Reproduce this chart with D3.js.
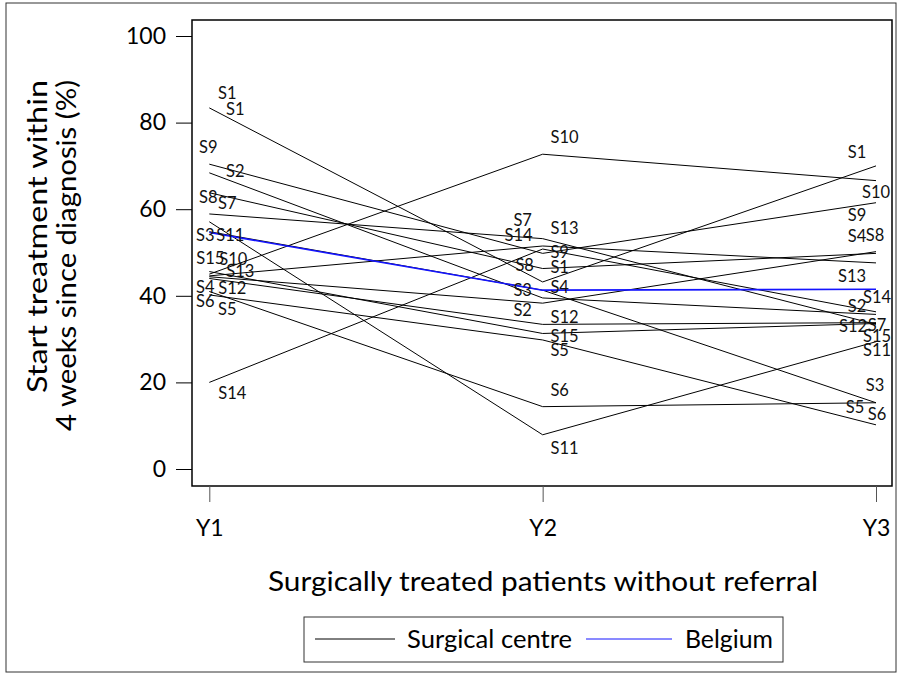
<!DOCTYPE html>
<html><head><meta charset="utf-8">
<script src="https://cdn.jsdelivr.net/npm/d3@7"></script>
<style>body{margin:0;background:#fff}</style>
</head><body>
<svg id="c" width="901" height="679"></svg>
<script>
// ---------- data ----------
const years = ["Y1", "Y2", "Y3"];
const centres = ["S1","S2","S3","S4","S5","S6","S7","S8","S9","S10","S11","S12","S13","S14","S15"];
const valuesY1 = [83.4, 68.4, 54.8, 44.4, 40.2, 41.0, 58.9, 63.8, 70.4, 45.0, 57.1, 44.0, 44.6, 20.0, 45.6];
const valuesY2 = [43.2, 39.5, 41.3, 38.3, 29.8, 14.4, 53.2, 46.3, 49.8, 72.7, 7.9, 33.4, 51.5, 50.8, 31.3];
const valuesY3 = [70.0, 35.7, 15.3, 50.2, 10.2, 15.3, 33.4, 49.8, 61.5, 66.6, 29.4, 33.8, 47.6, 36.3, 33.6];
const belgium = [54.6, 41.3, 41.5];
const yTicks = [0, 20, 40, 60, 80, 100];
const legendLabels = ["Surgical centre", "Belgium"];
const yTitleLines = ["Start treatment within", "4 weeks since diagnosis (%)"];
const xTitle = "Surgically treated patients without referral";

// ---------- label placement (pixel offsets from each point) ----------
const labelOffsets = [
  { S1:[18,-15], S9:[-1,-17], S2:[26,-2], S8:[-1,4], S7:[18,-11], S3:[-4,3], S11:[21,13],
    S15:[1,-13], S10:[24,-15], S13:[31,-5], S4:[-4,10], S12:[23,10], S6:[-4,10], S5:[18,14], S14:[23,11] },
  { S10:[22,-17], S7:[-20,-19], S14:[-24,-14], S13:[22,-18], S9:[17,-1], S8:[-18,-3], S1:[17,-15],
    S3:[-20,0], S4:[17,-16], S2:[-20,12], S12:[22,-7], S15:[22,3], S5:[17,10], S6:[17,-17], S11:[22,13] },
  { S1:[-19,-14], S10:[0,11], S9:[-19,12], S4:[-19,-16], S8:[-1,-18], S13:[-24,13], S14:[1,-15],
    S2:[-19,-8], S12:[-23,3], S7:[1,1], S15:[1,13], S11:[1,8], S3:[-1,-18], S5:[-21,-18], S6:[1,11] }
];
const extraLabels = [["S1", 0, 26, 1]]; // duplicate label visible at Y1

// ---------- drawing ----------
const FONT = "Lato, 'Open Sans', sans-serif";
const svg = d3.select("#c");
const seriesValues = [valuesY1, valuesY2, valuesY3];
const series = centres.map((c, i) => ({ name: c, values: seriesValues.map(a => a[i]) }));

const frame = { x: 192, y: 20, w: 700, h: 466 };
const x = d3.scalePoint().domain(years).range([209.3, 876]);
const y = d3.scaleLinear().domain([0, 100]).range([469, 36]);

// outer border
svg.append("rect").attr("x", 6).attr("y", 3).attr("width", 890).attr("height", 669)
  .attr("fill", "none").attr("stroke", "#333").attr("stroke-width", 1);

// plot frame
svg.append("rect").attr("x", frame.x).attr("y", frame.y).attr("width", frame.w).attr("height", frame.h)
  .attr("fill", "none").attr("stroke", "#000").attr("stroke-width", 1.5);

// y axis
const yAxis = d3.axisLeft(y).tickValues(yTicks).tickSize(16).tickPadding(10);
const gy = svg.append("g").attr("transform", `translate(${frame.x},0)`).call(yAxis);
gy.select(".domain").remove();
gy.selectAll(".tick line").attr("stroke", "#000");
gy.selectAll(".tick text").attr("font-family", FONT).attr("font-size", 23).attr("fill", "#000");

// x axis
const xAxis = d3.axisBottom(x).tickSize(16).tickPadding(18);
const gx = svg.append("g").attr("transform", `translate(0,${frame.y + frame.h})`).call(xAxis);
gx.select(".domain").remove();
gx.selectAll(".tick line").attr("stroke", "#555");
gx.selectAll(".tick text").attr("font-family", FONT).attr("font-size", 23).attr("fill", "#000");

// titles
const yt = svg.append("text").attr("transform", "rotate(-90)")
  .attr("font-family", FONT).attr("font-size", 26).attr("fill", "#000").attr("text-anchor", "end");
const yTitleLengths = [313, 351];
yTitleLines.forEach((t, i) => yt.append("tspan").attr("x", -80).attr("y", 47 + i * 29)
  .attr("textLength", yTitleLengths[i]).attr("lengthAdjust", "spacingAndGlyphs").text(t));

svg.append("text").attr("x", 543).attr("y", 591).attr("text-anchor", "middle")
  .attr("textLength", 550).attr("lengthAdjust", "spacingAndGlyphs")
  .attr("font-family", FONT).attr("font-size", 26).attr("fill", "#000").text(xTitle);

// lines
const line = d3.line().x((d, i) => x(years[i])).y(d => y(d));
svg.append("g").selectAll("path").data(series).join("path")
  .attr("d", d => line(d.values)).attr("fill", "none").attr("stroke", "#000").attr("stroke-width", 1);
svg.append("path").attr("d", line(belgium)).attr("fill", "none").attr("stroke", "#1414ff").attr("stroke-width", 1.6);

// point labels
const labels = [];
series.forEach(s => years.forEach((yr, i) => {
  const o = labelOffsets[i][s.name];
  labels.push({ text: s.name, x: x(yr) + o[0], y: y(s.values[i]) + o[1] });
}));
extraLabels.forEach(([name, i, dx, dy]) => {
  const s = series.find(d => d.name === name);
  labels.push({ text: name, x: x(years[i]) + dx, y: y(s.values[i]) + dy });
});
svg.append("g").selectAll("text").data(labels).join("text")
  .attr("x", d => d.x).attr("y", d => d.y).attr("dy", "0.36em").attr("text-anchor", "middle")
  .attr("font-family", FONT).attr("font-size", 16.5).attr("fill", "#111").text(d => d.text);

// legend
const lg = svg.append("g");
lg.append("rect").attr("x", 304).attr("y", 617).attr("width", 479).attr("height", 45)
  .attr("fill", "#fff").attr("stroke", "#333").attr("stroke-width", 1);
const legendItems = [
  { label: legendLabels[0], color: "#000", x1: 315, x2: 395, tx: 407, len: 165 },
  { label: legendLabels[1], color: "#1414ff", x1: 586, x2: 672, tx: 685, len: 88 }
];
legendItems.forEach(it => {
  lg.append("line").attr("x1", it.x1).attr("x2", it.x2).attr("y1", 639).attr("y2", 639)
    .attr("stroke", it.color).attr("stroke-width", 1);
  lg.append("text").attr("x", it.tx).attr("y", 639).attr("dy", "0.36em")
    .attr("textLength", it.len).attr("lengthAdjust", "spacingAndGlyphs")
    .attr("font-family", FONT).attr("font-size", 25).attr("fill", "#000").text(it.label);
});
</script>
</body></html>
